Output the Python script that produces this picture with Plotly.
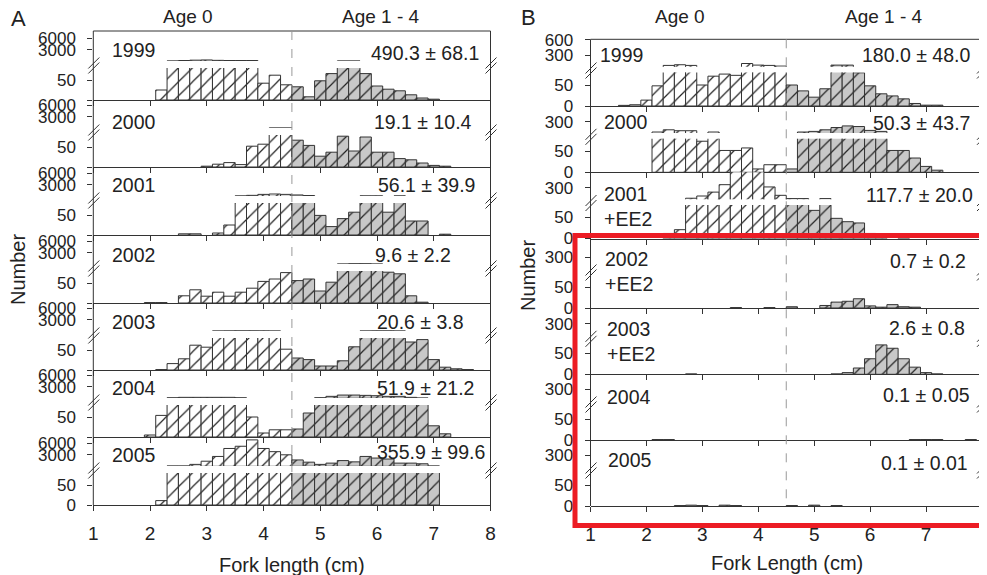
import plotly.graph_objects as go

# ---------------- data ----------------
BINS = [1.6, 1.8, 2.0, 2.2, 2.4, 2.6, 2.8, 3.0, 3.2, 3.4, 3.6, 3.8, 4.0, 4.2, 4.4,
        4.6, 4.8, 5.0, 5.2, 5.4, 5.6, 5.8, 6.0, 6.2, 6.4, 6.6, 6.8, 7.0, 7.2, 7.4, 7.6, 7.8]
AGE_SPLIT = 4.5
YEARS = ["1999", "2000", "2001", "2002", "2003", "2004", "2005"]

A_1999 = [0, 0, 0, 25, 100, 200, 300, 350, 250, 200, 200, 200, 42, 62, 38, 33, 8, 48, 66, 100, 100, 66, 35, 27, 23, 13, 5, 2, 0, 0, 0, 0]
A_2000 = [0, 0, 0, 0, 0, 0, 0, 2, 7, 11, 6, 52, 57, 100, 100, 67, 54, 27, 37, 77, 40, 75, 37, 37, 21, 18, 10, 4, 2, 0, 0, 0]
A_2001 = [0, 0, 0, 0, 0, 3, 3, 0, 5, 25, 120, 250, 500, 600, 500, 350, 200, 49, 21, 41, 57, 120, 120, 57, 120, 35, 35, 0, 2, 0, 0, 0]
A_2002 = [0, 0, 1, 1, 0, 18, 33, 17, 27, 17, 27, 37, 54, 60, 76, 56, 60, 30, 52, 90, 150, 150, 90, 77, 73, 18, 2, 0, 0, 0, 0, 0]
A_2003 = [0, 0, 0, 1, 16, 28, 62, 57, 100, 120, 130, 130, 120, 100, 52, 30, 26, 10, 10, 23, 58, 100, 120, 120, 100, 70, 76, 26, 7, 3, 1, 0]
A_2004 = [0, 0, 5, 54, 150, 250, 250, 250, 250, 250, 150, 50, 10, 18, 18, 20, 60, 160, 510, 850, 850, 770, 680, 510, 510, 250, 90, 28, 8, 0, 0, 0]
A_2005 = [0, 0, 0, 11, 100, 100, 500, 1330, 2570, 4650, 5230, 6890, 4650, 3820, 3000, 1660, 1080, 500, 830, 1490, 1160, 2570, 2150, 1900, 830, 830, 660, 100, 0, 0, 0, 0]

B_1999 = [1.5, 3, 14, 48, 105, 118, 105, 50, 71, 76, 73, 142, 111, 105, 92, 50, 36, 21, 41, 111, 111, 79, 48, 29, 24, 17, 6, 2, 2, 0, 0, 0]
B_2000 = [0, 0, 0, 99, 142, 124, 124, 74, 99, 52, 52, 58, 8, 18, 18, 8, 99, 111, 142, 186, 217, 205, 130, 111, 52, 52, 34, 14, 5, 0, 0, 0]
B_2001 = [0, 0, 0, 0, 12, 21, 99, 142, 217, 361, 700, 800, 700, 317, 155, 92, 92, 67, 92, 48, 40, 37, 12, 4, 0, 2, 0, 0, 0, 0, 0, 0]
B_2002 = [0, 0, 0, 0, 0, 0, 0, 0, 0, 0, 1, 0, 0, 1, 0, 3, 0, 0, 6, 14, 16, 22, 5, 2, 8, 3, 2, 0, 0, 0, 0, 0]
B_2003 = [0, 0, 0, 0, 0, 0, 1, 0, 0, 0, 0, 0, 0, 0, 0, 0, 0, 0, 0, 1, 4, 15, 37, 70, 62, 37, 17, 4, 1, 0, 0, 0]
B_2004 = [0, 0, 0, 1, 1, 0, 0, 0, 0, 0, 0, 0, 0, 0, 0, 0, 0, 0, 0, 0, 0, 0, 0, 0, 0, 0, 1, 1, 1, 0, 0, 1]
B_2005 = [0, 0, 0, 0, 0, 1, 2, 1, 0, 2, 1, 0, 0, 0, 0, 1, 0, 2, 0, 1, 0, 0, 0, 0, 0, 0, 0, 0, 0, 0, 0, 0]

A_COUNTS = [A_1999, A_2000, A_2001, A_2002, A_2003, A_2004, A_2005]
B_COUNTS = [B_1999, B_2000, B_2001, B_2002, B_2003, B_2004, B_2005]

A_STATS = ["490.3 ± 68.1", "19.1 ± 10.4", "56.1 ± 39.9", "9.6 ± 2.2", "20.6 ± 3.8", "51.9 ± 21.2", "355.9 ± 99.6"]
B_STATS = ["180.0 ± 48.0", "50.3 ± 43.7", "117.7 ± 20.0", "0.7 ± 0.2", "2.6 ± 0.8", "0.1 ± 0.05", "0.1 ± 0.01"]
B_YEAR_TEXT = ["1999", "2000", "2001<br>+EE2", "2002<br>+EE2", "2003<br>+EE2", "2004", "2005"]

X_TICKS = [1, 2, 3, 4, 5, 6, 7, 8]
A_UPPER_TICKS = [3000, 6000]
A_UPPER_TICKS_FIRST = [3000, 6000]
B_UPPER_TICKS = [300]
B_UPPER_TICKS_FIRST = [300, 600]
LOWER_TICKS = [0, 50]
BREAK = 80  # value at which the y axis is broken

# ---------------- styling / geometry ----------------
# the page body adds an 8 px margin, so the figure is drawn 8 px smaller and
# all target screen positions are shifted by that offset
OFF = 8
W, H = 987 - OFF, 575 - OFF
FONT = "Liberation Sans, Arial, sans-serif"
TXT = "#222222"
EDGE = "#333333"
WHITE = "#ffffff"
GREY = "#c8c8c8"


def px(x):
    return (x - OFF) / W


def py(y):
    return 1 - (y - OFF) / H


COLS = [
    dict(name="A", counts=A_COUNTS, x0=93.3, x1=490.5, top=31.0,
         bottoms=[100, 167, 235, 303, 370, 437, 505],
         low_h=32.0, up_gap=39.0, up_per_px=3000 / 11.5,
         up_ticks=A_UPPER_TICKS, up_ticks_first=A_UPPER_TICKS_FIRST, brk=34.0),
    dict(name="B", counts=B_COUNTS, x0=590.5, x1=982.0, top=39.3,
         bottoms=[106, 172.3, 238.5, 308, 374.3, 440, 506],
         low_h=33.6, up_gap=39.3, up_per_px=300 / 15.5,
         up_ticks=B_UPPER_TICKS, up_ticks_first=B_UPPER_TICKS_FIRST, brk=35.0),
]

fig = go.Figure()
layout = {}
shapes = []
annotations = []


def axname(kind, i):
    return f"{kind}axis" if i == 1 else f"{kind}axis{i}"


def axref(kind, i):
    return kind if i == 1 else f"{kind}{i}"


YTICKFONT = dict(family=FONT, size=17, color=TXT)


def bar(xs, ys, fill, xref, yref):
    return go.Bar(
        x=xs, y=ys, width=0.2, xaxis=xref, yaxis=yref,
        marker=dict(color=fill, line=dict(color=EDGE, width=1),
                    pattern=dict(shape="/", fgcolor="#222222", bgcolor=fill,
                                 size=10, solidity=0.12, fillmode="replace")),
        showlegend=False, hoverinfo="skip")


panel = 0
for col in COLS:
    n = len(col["bottoms"])
    for k in range(n):
        panel += 1
        xi = panel
        ylo = 2 * panel - 1
        yup = 2 * panel
        b = col["bottoms"][k]
        top = col["top"] if k == 0 else col["bottoms"][k - 1]
        last = (k == n - 1)
        counts = col["counts"][k]

        up_max = BREAK + (b - col["up_gap"] - top) * col["up_per_px"]

        layout[axname("x", xi)] = dict(
            domain=[px(col["x0"]), px(col["x1"])], range=[1, 8], anchor=axref("y", ylo),
            showline=True, linecolor=EDGE, linewidth=1, ticks="outside", ticklen=5,
            tickcolor=EDGE, tickvals=X_TICKS, showticklabels=last, showgrid=False,
            zeroline=False, tickfont=dict(family=FONT, size=19, color=TXT),
            ticklabelstandoff=6, automargin=False, fixedrange=True)

        lo_text = [str(v) for v in LOWER_TICKS]
        if col["name"] == "A" and not last:
            lo_text = ["", "50"]
        layout[axname("y", ylo)] = dict(
            domain=[py(b), py(b - col["low_h"])], range=[0, BREAK], anchor=axref("x", xi),
            showline=False, ticks="outside", ticklen=5, tickcolor=EDGE,
            tickvals=LOWER_TICKS, ticktext=lo_text, showgrid=False, zeroline=False,
            tickfont=YTICKFONT, ticklabelstandoff=8, automargin=False,
            fixedrange=True)

        tick_src = col["up_ticks_first"] if k == 0 else col["up_ticks"]
        up_ticks = [t for t in tick_src if t <= up_max]
        layout[axname("y", yup)] = dict(
            domain=[py(b - col["up_gap"]), py(top)], range=[BREAK, up_max], anchor=axref("x", xi),
            showline=False, ticks="outside", ticklen=5, tickcolor=EDGE,
            tickvals=up_ticks, ticktext=[str(t) for t in up_ticks], showgrid=False,
            zeroline=False, tickfont=YTICKFONT, ticklabelstandoff=8,
            automargin=False, fixedrange=True)

        # empty trace so the upper axis is always drawn, even with no bin above the break
        fig.add_trace(go.Scatter(x=[None], y=[None], xaxis=axref("x", xi), yaxis=axref("y", yup),
                                 mode="markers", showlegend=False, hoverinfo="skip"))

        # lower section: every non-empty bin; upper section: only bins above the break
        for yref, lim in ((axref("y", ylo), 0), (axref("y", yup), BREAK)):
            young = [(x, c) for x, c in zip(BINS, counts) if x < AGE_SPLIT and c > lim]
            old = [(x, c) for x, c in zip(BINS, counts) if x > AGE_SPLIT and c > lim]
            for pairs, fill in ((young, WHITE), (old, GREY)):
                if pairs:
                    fig.add_trace(bar([p[0] for p in pairs], [p[1] for p in pairs],
                                      fill, axref("x", xi), yref))

        # break marks on both borders
        yc = b - col["brk"]
        for xb in (col["x0"], col["x1"]):
            for d in (-2.5, 2.5):
                shapes.append(dict(type="line", xref="paper", yref="paper",
                                   x0=px(xb - 5), y0=py(yc + 5 + d), x1=px(xb + 6), y1=py(yc - 6 + d),
                                   line=dict(color=EDGE, width=1), layer="above"))

    # column frame
    bottom = col["bottoms"][-1]
    for (xa, ya, xb_, yb) in ((col["x0"], col["top"], col["x0"], bottom),
                              (col["x1"], col["top"], col["x1"], bottom),
                              (col["x0"], col["top"], col["x1"], col["top"])):
        shapes.append(dict(type="line", xref="paper", yref="paper",
                           x0=px(xa), y0=py(ya), x1=px(xb_), y1=py(yb),
                           line=dict(color=EDGE, width=1), layer="above"))
    # dashed age split line
    first_x = axref("x", panel - n + 1)
    shapes.append(dict(type="line", xref=first_x, yref="paper",
                       x0=AGE_SPLIT, x1=AGE_SPLIT, y0=py(col["top"]), y1=py(bottom),
                       line=dict(color="#999999", width=1, dash="dash"), layer="above"))

# red highlight box
shapes.append(dict(type="rect", xref="paper", yref="paper",
                   x0=px(575), y0=py(525.5), x1=px(1000), y1=py(235.5),
                   line=dict(color="#ec1c24", width=5), fillcolor="rgba(0,0,0,0)", layer="above"))


def ann(text, x, y, size=19.5, xanchor="center", yanchor="middle", angle=0, align="left"):
    annotations.append(dict(text=text, x=px(x), y=py(y), xref="paper", yref="paper",
                            xanchor=xanchor, yanchor=yanchor, showarrow=False,
                            textangle=angle, align=align,
                            font=dict(family=FONT, size=size, color=TXT)))


# panel letters and headers
ann("A", 18, 18.5, size=22)
ann("B", 528, 17.5, size=22)
ann("Age 0", 188, 17, size=19)
ann("Age 1 - 4", 381, 17, size=19)
ann("Age 0", 680, 17, size=19)
ann("Age 1 - 4", 884, 17, size=19)

# year labels
A_YEAR_X = [110] * 7
A_YEAR_Y = [50, 121.7, 185, 255, 321.7, 388.3, 455]
B_YEAR_X = [598, 602, 602, 603, 605, 605, 606]
B_YEAR_Y = [55, 121.7, 206, 271.5, 341.5, 396.7, 460]
for t, x, y in zip(YEARS, A_YEAR_X, A_YEAR_Y):
    ann(t, x, y, xanchor="left")
for t, x, y in zip(B_YEAR_TEXT, B_YEAR_X, B_YEAR_Y):
    ann(t, x, y, xanchor="left")

# statistics
A_STAT_X = [369, 372, 376, 373, 375, 375, 375]
A_STAT_Y = [53, 121.7, 185, 255, 321.7, 388.3, 451.7]
B_STAT_X = [972, 972, 975, 968, 967, 972, 970]
B_STAT_Y = [55, 123.3, 195, 260.7, 328.3, 395, 462.7]
for t, x, y in zip(A_STATS, A_STAT_X, A_STAT_Y):
    ann(t, x, y, xanchor="left")
for t, x, y in zip(B_STATS, B_STAT_X, B_STAT_Y):
    ann(t, x, y, xanchor="right")

# axis titles
ann("Number", 18, 270, size=20, angle=-90)
ann("Number", 528, 276, size=20, angle=-90)
ann("Fork length (cm)", 292, 565, size=20)
ann("Fork Length (cm)", 787, 563, size=20)

fig.update_layout(
    template="none",
    width=W, height=H, margin=dict(l=0, r=0, t=0, b=0, pad=0), autosize=False,
    paper_bgcolor="white", plot_bgcolor="rgba(0,0,0,0)",
    barmode="overlay", showlegend=False,
    shapes=shapes, annotations=annotations,
    font=dict(family=FONT, color=TXT),
    **layout)

fig.write_html("out.html")
